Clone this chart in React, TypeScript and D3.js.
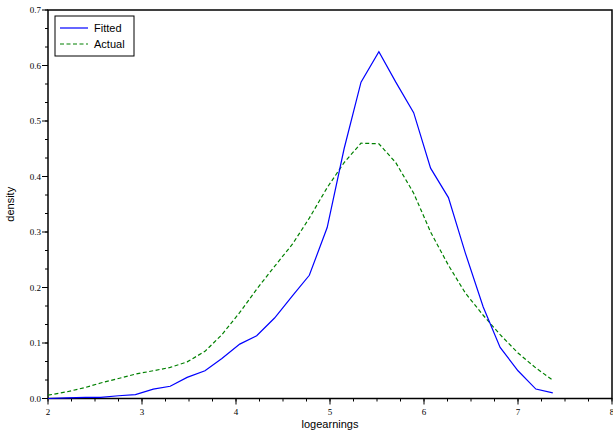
import React from "react";
import * as d3 from "d3";

const xs = [2.0,2.2,2.4,2.56,2.75,2.93,3.12,3.3,3.48,3.67,3.85,4.04,4.22,4.41,4.6,4.78,4.97,5.15,5.33,5.52,5.7,5.89,6.07,6.26,6.44,6.63,6.81,7.0,7.19,7.37];
const fitted = [0.0,0.001,0.002,0.002,0.005,0.007,0.017,0.022,0.038,0.05,0.072,0.098,0.113,0.145,0.185,0.222,0.308,0.45,0.57,0.625,0.57,0.515,0.415,0.362,0.262,0.165,0.092,0.05,0.017,0.01];
const actual = [0.006,0.012,0.02,0.028,0.036,0.044,0.05,0.056,0.066,0.085,0.115,0.155,0.197,0.238,0.278,0.325,0.38,0.425,0.46,0.459,0.425,0.37,0.3,0.24,0.19,0.15,0.115,0.082,0.055,0.033];
const xTicks = [2,3,4,5,6,7,8];
const yTicks = [0,0.1,0.2,0.3,0.4,0.5,0.6,0.7];

export default function App() {
  const L = 48, R = 612, T = 10, B = 398.5;
  const x = d3.scaleLinear().domain([2, 8]).range([L, R]);
  const y = d3.scaleLinear().domain([0, 0.7]).range([B, T]);
  const line = (vals: number[]) => d3.line<number>().x((_, i) => x(xs[i])).y(d => y(d))(vals) || "";
  const xMinor = d3.range(2, 8.001, 0.25);
  const yMinor = d3.range(0, 0.7001, 1 / 30);
  return (
    <svg width={613} height={435} style={{ position: "absolute", left: 0, top: 0 }}>
      <rect x={0} y={0} width={613} height={435} fill="white" />
      <rect x={L} y={T} width={R - L} height={B - T} fill="none" stroke="black" strokeWidth={1.5} />
      {xMinor.map((v, i) => <line key={"xm" + i} x1={x(v)} x2={x(v)} y1={B} y2={B + 3} stroke="black" />)}
      {xTicks.map(v => <g key={"xt" + v}>
        <line x1={x(v)} x2={x(v)} y1={B} y2={B + 6} stroke="black" />
        <text x={x(v)} y={B + 16} textAnchor="middle" fontFamily="Liberation Serif" fontSize={9}>{v}</text>
      </g>)}
      {yMinor.map((v, i) => <line key={"ym" + i} x1={L - 3} x2={L} y1={y(v)} y2={y(v)} stroke="black" />)}
      {yTicks.map(v => <g key={"yt" + v}>
        <line x1={L - 6} x2={L} y1={y(v)} y2={y(v)} stroke="black" />
        <text x={L - 7} y={y(v) + 3} textAnchor="end" fontFamily="Liberation Serif" fontSize={9}>{v.toFixed(1)}</text>
      </g>)}
      <text x={(L + R) / 2} y={428} textAnchor="middle" fontFamily="Liberation Sans" fontSize={11}>logearnings</text>
      <text transform={`translate(14,${(T + B) / 2}) rotate(-90)`} textAnchor="middle" fontFamily="Liberation Sans" fontSize={11}>density</text>
      <path d={line(actual)} fill="none" stroke="#008000" strokeWidth={1.2} strokeDasharray="4,2.5" />
      <path d={line(fitted)} fill="none" stroke="#0000ff" strokeWidth={1.2} />
      <rect x={55} y={16} width={79} height={40} fill="white" stroke="black" />
      <line x1={60} x2={88} y1={28} y2={28} stroke="#0000ff" strokeWidth={1.2} />
      <text x={94} y={32} fontFamily="Liberation Sans" fontSize={11}>Fitted</text>
      <line x1={60} x2={88} y1={44} y2={44} stroke="#008000" strokeWidth={1.2} strokeDasharray="4,2.5" />
      <text x={94} y={48} fontFamily="Liberation Sans" fontSize={11}>Actual</text>
    </svg>
  );
}
